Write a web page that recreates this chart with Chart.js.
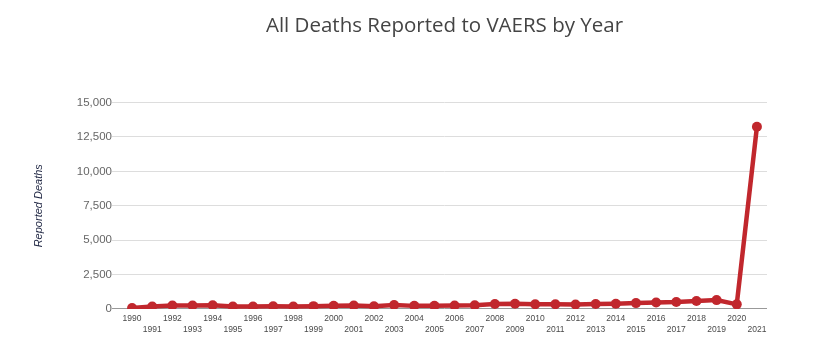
<!DOCTYPE html>
<html>
<head>
<meta charset="utf-8">
<script src="https://cdn.jsdelivr.net/npm/chart.js@4.4.1/dist/chart.umd.min.js"></script>
<style>
  html, body { margin: 0; padding: 0; background: #fff; }
  .canvas-body { width: 828px; height: 351px; }
</style>
</head>
<body>
<div class="canvas-body"><canvas id="myChart"></canvas></div>
<script>
// data
const years = ['1990','1991','1992','1993','1994','1995','1996','1997','1998','1999',
  '2000','2001','2002','2003','2004','2005','2006','2007','2008','2009',
  '2010','2011','2012','2013','2014','2015','2016','2017','2018','2019',
  '2020','2021'];
const deaths = [60, 180, 240, 250, 260, 180, 170, 190, 180, 200,
  230, 240, 190, 290, 220, 220, 240, 260, 360, 380,
  340, 340, 320, 360, 380, 420, 470, 500, 570, 640,
  330, 13250];
const yTicks = [0, 2500, 5000, 7500, 10000, 12500, 15000];

const lineRed = '#c1272d';

const data = {
  labels: years,
  datasets: [{
    label: 'Reported Deaths',
    data: deaths,
    borderColor: lineRed,
    backgroundColor: lineRed,
    borderWidth: 4.5,
    pointRadius: 5,
    pointBorderWidth: 0,
    pointHoverRadius: 5,
    tension: 0
  }]
};

const config = {
  type: 'line',
  data,
  options: {
    responsive: true,
    maintainAspectRatio: false,
    animation: false,
    layout: { padding: { left: 32, right: 61, top: 14, bottom: 12 } },
    plugins: {
      legend: { display: false },
      tooltip: { enabled: false },
      title: {
        display: true,
        fullSize: false,
        text: 'All Deaths Reported to VAERS by Year',
        color: '#444',
        font: { family: '"Open Sans"', size: 20.5, weight: 'normal' },
        padding: { top: 0, bottom: 64 }
      }
    },
    scales: {
      x: {
        offset: true,
        grid: { display: false, drawTicks: false },
        border: { display: false },
        ticks: {
          autoSkip: false,
          maxRotation: 0,
          padding: 4,
          color: '#4a4a4a',
          font: { family: '"Liberation Sans Narrow", "Liberation Sans"', size: 8.5, lineHeight: 1.3 },
          callback: function (v, i) {
            const lab = years[i];
            return i % 2 === 0 ? lab : ['', lab];
          }
        }
      },
      y: {
        min: 0,
        max: 15000,
        afterBuildTicks: function (scale) {
          scale.ticks = yTicks.map(v => ({ value: v }));
        },
        afterFit: function (scale) { scale.width = 90; },
        grid: {
          color: function (c) { return c.tick.value === 0 ? '#999' : '#ddd'; },
          tickLength: 10,
          tickColor: function (c) { return c.tick.value === 0 ? '#999' : '#ddd'; }
        },
        border: { display: false },
        ticks: {
          padding: 0,
          color: '#666',
          font: { family: '"Liberation Sans"', size: 11.5 },
          callback: v => v.toLocaleString('en-US')
        },
        title: {
          display: true,
          text: 'Reported Deaths',
          color: '#1c2340',
          font: { family: '"Liberation Sans"', size: 11, style: 'italic' },
          padding: { top: 0, bottom: 0 }
        }
      }
    }
  }
};

const myChart = new Chart(document.getElementById('myChart'), config);
</script>
</body>
</html>
